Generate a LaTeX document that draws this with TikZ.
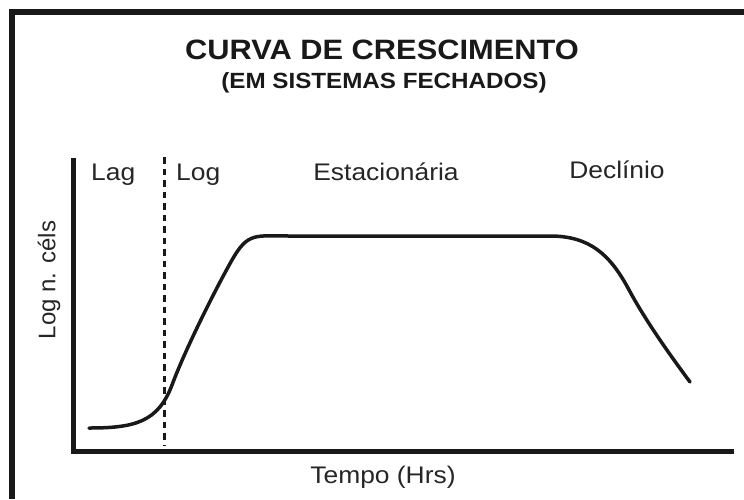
\documentclass[tikz,border=0pt]{standalone}
\usepackage{graphicx}
\usepackage{fontspec}
\setmainfont{Liberation Sans}
\newcommand{\wide}[1]{\scalebox{1.1}[1]{#1}}
\begin{document}
\begin{tikzpicture}[x=1pt,y=-1pt,
  frameline/.style={line width=6pt,draw=black!90},
  axisline/.style={line width=5pt,draw=black!90},
  curveline/.style={line width=3.5pt,draw=black!90,line cap=round},
  phasediv/.style={line width=3pt,draw=black!90,dash pattern=on 6.5pt off 5pt},
  lbl/.style={font=\fontsize{24}{28}\selectfont,text=black!85,inner sep=0pt},
  ttl/.style={font=\bfseries\fontsize{28}{32}\selectfont,text=black!90,inner sep=0pt},
  subttl/.style={font=\bfseries\fontsize{22}{26}\selectfont,text=black!90,inner sep=0pt}]
\useasboundingbox (0,0) rectangle (744,499);
\fill[white] (0,0) rectangle (744,499);
% frame
\coordinate (fTL) at (12,12);
\coordinate (fTR) at (744,12);
\coordinate (fBL) at (12,499);
\draw[frameline] (fBL) -- (fTL) -- (fTR);
% axes
\coordinate (yTop) at (73,158);
\coordinate (origin) at (73,451);
\coordinate (xEnd) at (734,451);
\draw[axisline] (yTop) -- (origin) -- (xEnd);
% lag/log divider
\coordinate (dTop) at (164,157);
\coordinate (dBot) at (164,446);
\draw[phasediv] (dTop) -- (dBot);
% growth curve
\coordinate (c0) at (89,428);
\coordinate (c1) at (172,385);
\coordinate (c2) at (232,260);
\coordinate (c3) at (290,236);
\coordinate (c4) at (550,236);
\coordinate (c5) at (628,288);
\coordinate (c6) at (690,382);
\draw[curveline] (c0) .. controls (135,428) and (158,422) .. (c1)
  .. controls (185,350) and (215,290) .. (c2)
  .. controls (248,232) and (255,236) .. (c3)
  -- (c4)
  .. controls (590,236) and (610,255) .. (c5)
  .. controls (645,320) and (670,355) .. (c6);
% texts
\node[ttl,anchor=base] (title) at (382,59) {\wide{CURVA DE CRESCIMENTO}};
\node[subttl,anchor=base] (subtitle) at (384,88) {\wide{(EM SISTEMAS FECHADOS)}};
\node[lbl,anchor=base west] (lag) at (91,180) {\wide{Lag}};
\node[lbl,anchor=base west] (log) at (176,180) {\wide{Log}};
\node[lbl,anchor=base] (est) at (386,180) {\wide{Estacionária}};
\node[lbl,anchor=base] (dec) at (617,178) {\wide{Declínio}};
\node[lbl,rotate=90] (ylab) at (49,280) {Log n. céls};
\node[lbl,anchor=base] (xlab) at (383,483) {\wide{Tempo (Hrs)}};
\end{tikzpicture}
\end{document}
